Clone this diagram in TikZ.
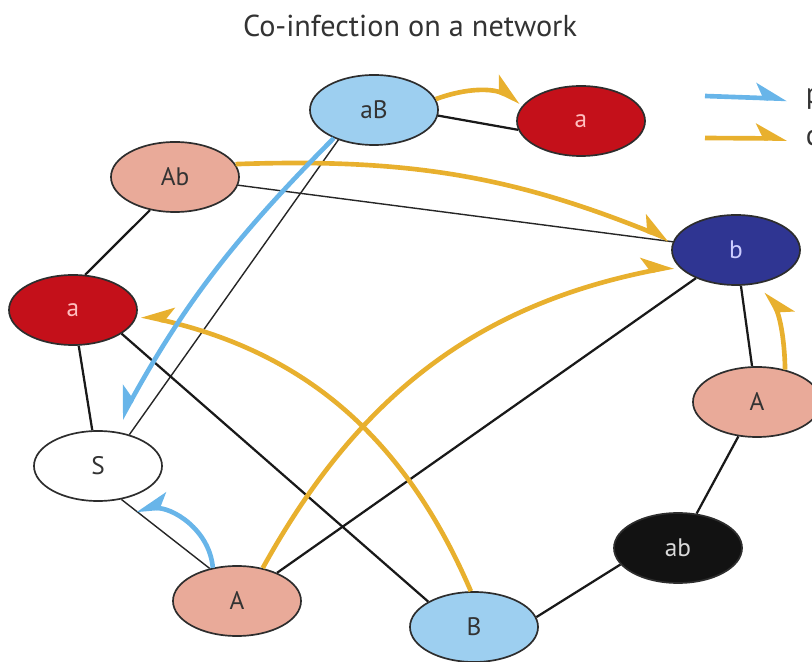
\documentclass[tikz,border=0pt]{standalone}
\usepackage{fontspec}
\setmainfont{PT Sans}
\usetikzlibrary{shapes.geometric, arrows.meta}

\definecolor{skyfill}{RGB}{157,207,240}
\definecolor{redfill}{RGB}{196,16,26}
\definecolor{salmonfill}{RGB}{233,170,153}
\definecolor{navyfill}{RGB}{47,53,146}
\definecolor{inkfill}{RGB}{18,18,18}
\definecolor{goldline}{RGB}{232,176,46}
\definecolor{skyline}{RGB}{104,181,233}
\definecolor{rimline}{RGB}{45,45,45}

\begin{document}
\begin{tikzpicture}[
    x=0.025cm, y=-0.025cm,
    host/.style={ellipse, draw=rimline, line width=1.2pt, minimum width=3.2cm, minimum height=1.75cm, inner sep=0pt, font=\fontsize{18}{18}\selectfont, text=black!80},
    link/.style={line width=1.6pt, black!90},
    thinlink/.style={line width=1pt, black!85},
    primary/.style={line width=3.3pt, skyline, -{Stealth[harpoon, length=19pt, width=21pt, inset=5pt]}},
    coinf/.style={line width=3.3pt, goldline, -{Stealth[harpoon, length=19pt, width=21pt, inset=5pt]}},
    flip/.style={-{Stealth[harpoon, swap, length=19pt, width=21pt, inset=5pt]}}
]
\useasboundingbox (0,0) rectangle (812,662);

% Title
\node (title) at (410,26) {\fontsize{21.5}{22}\selectfont\color{black!80}Co-infection on a network};

% Nodes
\node (aB) [host, fill=skyfill] at (374,110) {aB};
\node (aR) [host, fill=redfill, text=red!25] at (581,121) {a};
\node (Ab) [host, fill=salmonfill] at (175,177) {Ab};
\node (b) [host, fill=navyfill, text=blue!20] at (736,250) {b};
\node (aL) [host, fill=redfill, text=red!25] at (73,310) {a};
\node (Ar) [host, fill=salmonfill] at (757,402) {A};
\node (S) [host, fill=white] at (98,466) {S};
\node (ab) [host, fill=inkfill, text=white!85!black] at (678,548) {ab};
\node (A) [host, fill=salmonfill] at (237,601) {A};
\node (B) [host, fill=skyfill] at (474,627) {B};

% Legend
\coordinate (primstart) at (705,96);
\coordinate (coinstart) at (705,138);
\node (primlab) [anchor=base west, font=\fontsize{21}{21}\selectfont, text=black!80] at (801,104) {p};
\node (coinlab) [anchor=base west, font=\fontsize{21}{21}\selectfont, text=black!80] at (801,146) {c};

% Links
\draw [link] (aB.-5) -- (aR.188);
\draw [thinlink] (aB.-140) -- (S.45);
\draw [thinlink] (Ab) -- (b);
\draw [link] (Ab.-127) -- (aL.71);
\draw [link] (aL) -- (S);
\draw [link] (aL.-26) -- (B.151);
\draw [thinlink] (S.-55) -- (A.130);
\draw [link] (A) -- (b);
\draw [link] (b) -- (Ar);
\draw [link] (Ar) -- (ab);
\draw [link] (ab.196) -- (B.9);

% Infections
\draw [coinf, shorten >=3pt] (aB.10) to[bend left=23] (aR.163);
\draw [coinf, shorten >=3pt] (Ab.12) to[bend left=12] (b.172);
\draw [coinf, flip, shorten >=3pt] (B.95) to[bend right=27] (aL.-4);
\draw [coinf, shorten >=3pt] (A.52) to[bend left=25] (b.195);
\draw [coinf, flip, shorten >=7pt] (Ar.49) to[bend right=14] (b.-52);
\draw [primary, flip, shorten >=10pt] (aB.-145) to[bend right=8] (S.65);
\draw [primary, flip, shorten >=2pt] (A.126) to[out=95,in=5] ([xshift=3pt, yshift=-9pt]S.-45);
\draw [primary, shorten >=10pt] (primstart) -- (primlab.west);
\draw [coinf, shorten >=10pt] (coinstart) -- (coinlab.west);

\end{tikzpicture}
\end{document}
